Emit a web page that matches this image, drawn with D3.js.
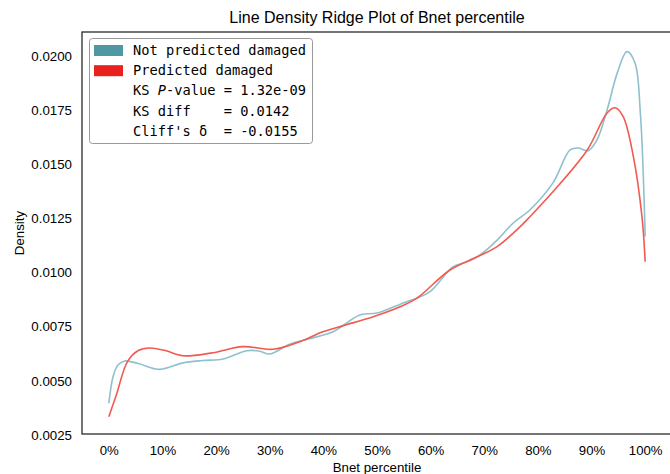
<!DOCTYPE html>
<html>
<head>
<meta charset="utf-8">
<script src="https://cdn.jsdelivr.net/npm/d3@7"></script>
<style>
  body { margin: 0; background: #fff; }
  svg text { font-family: "Liberation Sans", Arial, sans-serif; fill: #000; }
  .legend text { font-family: "DejaVu Sans Mono", monospace; }
</style>
</head>
<body>
<div id="chart"></div>
<script>
// percentile positions (x) and density values
const notDamagedX = [0, 0.8, 1.7, 3.0, 5.5, 9.5, 13.8, 17.5, 21.3, 25.7, 28.0, 30.0, 33.8, 37.5, 41.8, 46.8, 50.0, 54.9, 57.5, 59.9, 64.2, 66.8, 69.2, 72.4, 75.4, 78.5, 82.8, 86.0, 87.5, 89.4, 91.0, 92.9, 94.8, 96.6, 98.1, 99.1, 100];
const notDamagedY = [0.00396, 0.0052, 0.00573, 0.00592, 0.00580, 0.00553, 0.00583, 0.00594, 0.00601, 0.00639, 0.00638, 0.00624, 0.00670, 0.00695, 0.00727, 0.00804, 0.00813, 0.00860, 0.00883, 0.00912, 0.01027, 0.01050, 0.01081, 0.01150, 0.01229, 0.01289, 0.01414, 0.01566, 0.01575, 0.01563, 0.01612, 0.01751, 0.01922, 0.02020, 0.01968, 0.01737, 0.01166];

const damagedX = [0, 1.4, 3.5, 5.5, 7.6, 10.5, 13.8, 19.0, 25.0, 30.6, 35.6, 39.9, 43.7, 49.3, 54.3, 57.5, 63.6, 68.7, 72.4, 76.7, 78.5, 82.8, 89.2, 92.9, 94.4, 95.9, 97.8, 99.4, 100];
const damagedY = [0.00334, 0.00435, 0.00590, 0.00640, 0.00652, 0.00640, 0.00616, 0.00628, 0.00658, 0.00646, 0.00681, 0.00727, 0.00755, 0.00796, 0.00842, 0.00883, 0.01012, 0.01073, 0.01120, 0.01212, 0.01258, 0.01373, 0.01566, 0.01737, 0.01761, 0.01720, 0.01535, 0.01258, 0.01050];

const xTicks = [0, 10, 20, 30, 40, 50, 60, 70, 80, 90, 100];
const yTicks = [0.0025, 0.0050, 0.0075, 0.0100, 0.0125, 0.0150, 0.0175, 0.0200];

const seriesNames = ["Not predicted damaged", "Predicted damaged"];
const patchColors = ["#5097a4", "#e8201e"];
const lineColors = ["#8fc1cc", "#f25a50"];
const statLines = ["KS \u0000P-value = 1.32e-09", "KS diff    = 0.0142", "Cliff's \u03b4  = -0.0155"];

const width = 670, height = 474;
const frame = { left: 82, top: 32, bottom: 434, right: 672 };

const svg = d3.select("#chart").append("svg")
    .attr("width", width)
    .attr("height", height);

const x = d3.scaleLinear().domain([-5, 105]).range([frame.left, frame.right]);
const y = d3.scaleLinear().domain([0.0025, 0.0200]).range([435, 56]);

// title
svg.append("text")
    .attr("x", (frame.left + frame.right) / 2)
    .attr("y", 23)
    .attr("text-anchor", "middle")
    .attr("font-size", "16px")
    .text("Line Density Ridge Plot of Bnet percentile");

// axes (labels only, no tick marks)
const xAxis = svg.append("g")
    .attr("transform", "translate(0," + frame.bottom + ")")
    .call(d3.axisBottom(x).tickValues(xTicks).tickFormat(d => d + "%").tickSize(0).tickPadding(12));
xAxis.select(".domain").remove();
xAxis.selectAll("text").attr("font-size", "13.2px").attr("font-family", null);

const yAxis = svg.append("g")
    .attr("transform", "translate(" + frame.left + ",0)")
    .call(d3.axisLeft(y).tickValues(yTicks).tickFormat(d3.format(".4f")).tickSize(0).tickPadding(10));
yAxis.select(".domain").remove();
yAxis.selectAll("text").attr("font-size", "13.3px").attr("font-family", null);

svg.append("text")
    .attr("x", x(50))
    .attr("y", 472)
    .attr("text-anchor", "middle")
    .attr("font-size", "13.3px")
    .text("Bnet percentile");

svg.append("text")
    .attr("transform", "translate(24," + ((frame.top + frame.bottom) / 2) + ") rotate(-90)")
    .attr("text-anchor", "middle")
    .attr("font-size", "13.3px")
    .text("Density");

// lines
const line = d3.line()
    .x(d => x(d[0]))
    .y(d => y(d[1]))
    .curve(d3.curveCatmullRom.alpha(0.5));

const series = [
    d3.zip(notDamagedX, notDamagedY),
    d3.zip(damagedX, damagedY)
];

svg.append("g").selectAll("path")
    .data(series)
    .enter()
    .append("path")
    .attr("d", line)
    .attr("fill", "none")
    .attr("stroke", (d, i) => lineColors[i])
    .attr("stroke-width", 1.6);

// frame
svg.append("rect")
    .attr("x", frame.left)
    .attr("y", frame.top)
    .attr("width", frame.right - frame.left)
    .attr("height", frame.bottom - frame.top)
    .attr("fill", "none")
    .attr("stroke", "#222")
    .attr("stroke-width", 1.25);

// legend
const legend = svg.append("g").attr("class", "legend");
legend.append("rect")
    .attr("x", 89.5)
    .attr("y", 38.5)
    .attr("width", 223)
    .attr("height", 105)
    .attr("rx", 3)
    .attr("fill", "#fff")
    .attr("fill-opacity", 0.8)
    .attr("stroke", "#999")
    .attr("stroke-width", 1);

legend.selectAll(".patch")
    .data(seriesNames)
    .enter()
    .append("rect")
    .attr("class", "patch")
    .attr("x", 94)
    .attr("y", (d, i) => 45 + i * 20.2)
    .attr("width", 29)
    .attr("height", 11)
    .attr("fill", (d, i) => patchColors[i]);

const rows = seriesNames.concat(statLines);
legend.selectAll(".row")
    .data(rows)
    .enter()
    .append("text")
    .attr("class", "row")
    .attr("x", 133)
    .attr("y", (d, i) => 55 + i * 20.2)
    .attr("font-size", "13.7px")
    .each(function(d) {
        const t = d3.select(this);
        if (d.indexOf("\u0000") >= 0) {
            const parts = d.split("\u0000");
            t.append("tspan").text(parts[0]);
            t.append("tspan").attr("font-style", "italic").text("P");
            t.append("tspan").text(parts[1].slice(1));
        } else {
            t.text(d);
        }
    })
    .attr("xml:space", "preserve")
    .style("white-space", "pre");
</script>
</body>
</html>
